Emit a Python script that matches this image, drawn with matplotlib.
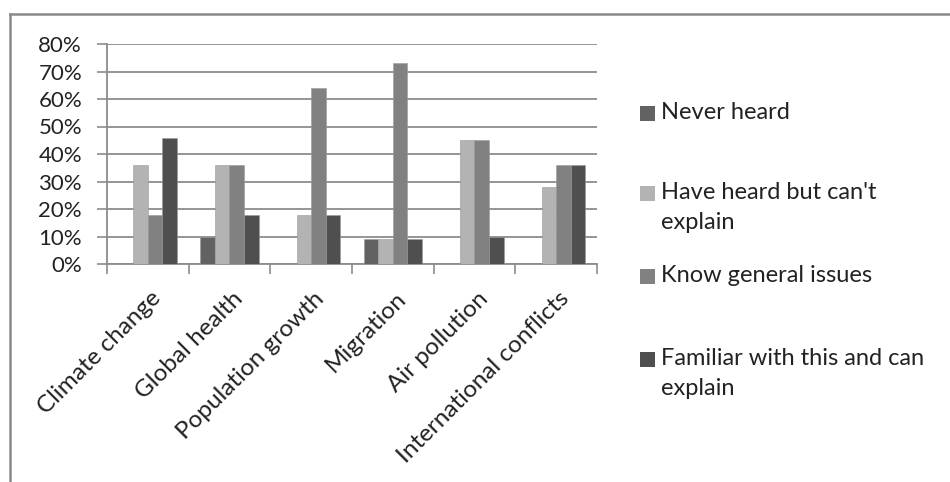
import matplotlib.pyplot as plt
import matplotlib.ticker as mticker
from matplotlib.patches import Rectangle
from matplotlib.lines import Line2D
import numpy as np

plt.rcParams["font.family"] = ["Lato", "DejaVu Sans"]

categories = ["Climate change", "Global health", "Population growth",
              "Migration", "Air pollution", "International conflicts"]
series_names = ["Never heard", "Have heard but can't\nexplain",
                "Know general issues", "Familiar with this and can\nexplain"]
never_heard = [0, 10, 0, 9, 0, 0]
heard_cant_explain = [36, 36, 18, 9, 45, 28]
know_general = [18, 36, 64, 73, 45, 36]
familiar = [46, 18, 18, 9, 10, 36]
series_values = [never_heard, heard_cant_explain, know_general, familiar]
colors = ["#626262", "#b3b3b3", "#818181", "#4f4f4f"]

fig = plt.figure(figsize=(9.5, 4.82), dpi=100)
ax = fig.add_axes([107 / 950, 1 - 264 / 482, 490 / 950, 220 / 482])

x = np.arange(len(categories))
width = 0.178
for i, (vals, col) in enumerate(zip(series_values, colors)):
    ax.bar(x + (i - 1.5) * width, np.array(vals) / 100, width, color=col,
           edgecolor="#9a9a9a", linewidth=0.4, zorder=3)

ax.set_xlim(-0.5, len(categories) - 0.5)
ax.set_ylim(0, 0.8)
ax.yaxis.set_major_locator(mticker.MultipleLocator(0.1))
ax.yaxis.set_major_formatter(mticker.PercentFormatter(1.0, decimals=0))
ax.grid(axis="y", color="#8c8c8c", linewidth=1.3, zorder=0)

# category ticks at group boundaries, labels at group centres
ax.set_xticks(np.arange(len(categories) + 1) - 0.5)
ax.set_xticklabels([])
ax.set_xticks(x + 0.03, minor=True)
ax.set_xticklabels(categories, minor=True, rotation=45, ha="right",
                   rotation_mode="anchor", fontsize=17.5, color="#222222")
ax.tick_params(axis="x", which="minor", length=0, pad=17)
ax.tick_params(axis="x", which="major", length=7, color="#8c8c8c", width=1.2)
ax.tick_params(axis="y", length=7, color="#8c8c8c", width=1.2,
               labelsize=16, labelcolor="#222222", pad=11)

for side in ("top", "right"):
    ax.spines[side].set_visible(False)
for side in ("left", "bottom"):
    ax.spines[side].set_color("#8c8c8c")
    ax.spines[side].set_linewidth(1.3)

# legend drawn by hand so squares line up with first line of each label
legend_y = [114, 194, 277, 360]
for name, col, yy in zip(series_names, colors, legend_y):
    fig.patches.append(Rectangle((640 / 950, 1 - (yy + 7) / 482), 15 / 950, 15 / 482,
                                 transform=fig.transFigure, facecolor=col,
                                 edgecolor="none"))
    fig.text(661 / 950, 1 - (yy - 12) / 482, name, fontsize=17, color="#222222",
             va="top", ha="left", linespacing=1.55)

# outer chart border (only left and top visible)
fig.add_artist(Line2D([9.5 / 950, 9.5 / 950], [0, 1 - 14 / 482],
                      transform=fig.transFigure, color="#8a8a8a", linewidth=1.8))
fig.add_artist(Line2D([9.5 / 950, 1], [1 - 14 / 482, 1 - 14 / 482],
                      transform=fig.transFigure, color="#8a8a8a", linewidth=1.8))

fig.savefig("out.png", dpi=100)
